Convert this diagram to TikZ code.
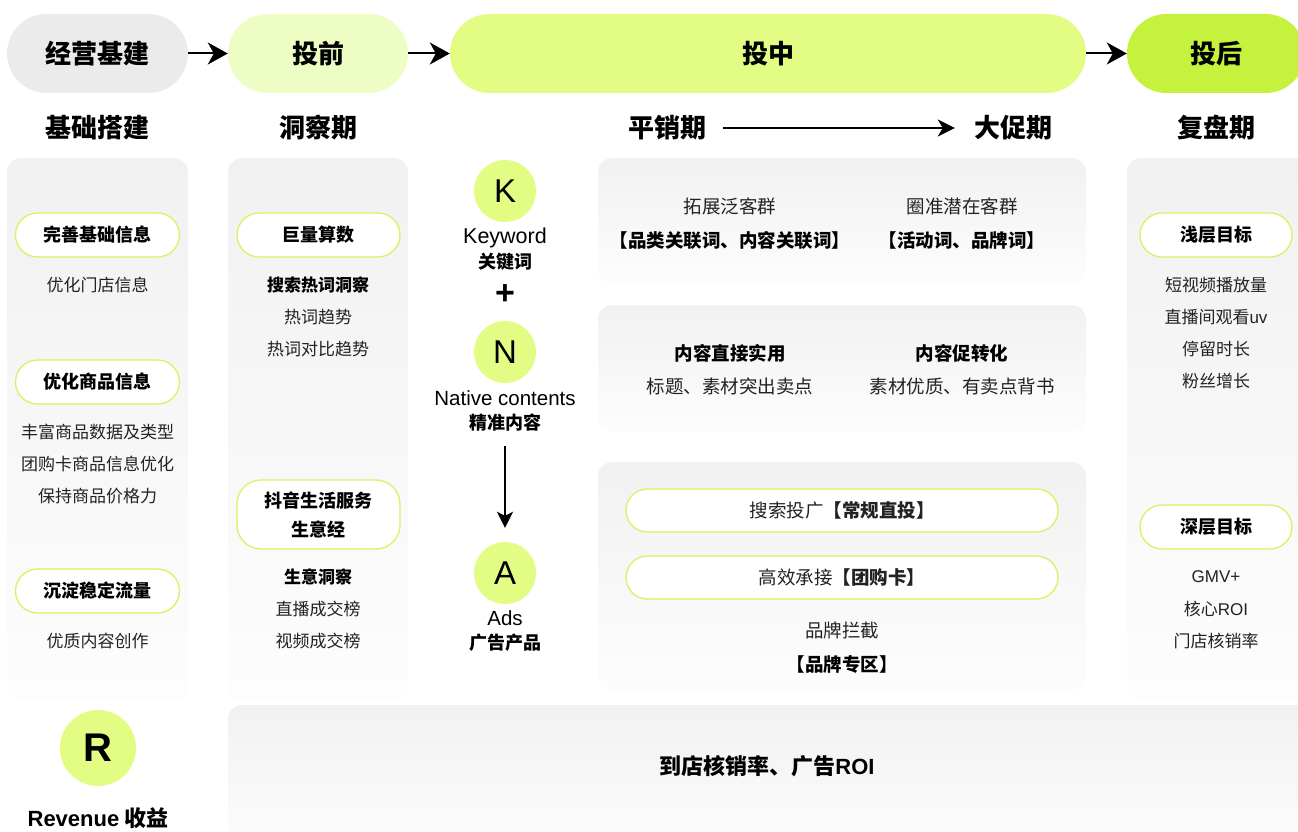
\documentclass[tikz,border=0pt]{standalone}
\usepackage{fontspec}
\setmainfont{Noto Sans CJK SC}
\newfontfamily\lat{Liberation Sans}
\usetikzlibrary{arrows.meta}
\definecolor{greyP}{HTML}{EBEBEB}
\definecolor{limeA}{HTML}{EDFDC3}
\definecolor{limeB}{HTML}{E3FC84}
\definecolor{limeC}{HTML}{C5F23D}
\definecolor{limeLine}{HTML}{D2F563}
\definecolor{panelTop}{HTML}{F1F1F1}
\definecolor{panelBot}{HTML}{FDFDFD}
\definecolor{txtc}{HTML}{222222}
\newcommand\myfs[1]{\fontsize{#1}{#1}\selectfont}
\begin{document}
\begin{tikzpicture}[x=1pt,y=-1pt,
  head/.style={rectangle, rounded corners=39.5pt, minimum height=79pt, inner sep=0pt, font=\bfseries\myfs{26}},
  subt/.style={inner sep=0pt, font=\bfseries\myfs{26}},
  panel/.style={rounded corners=14pt, top color=panelTop, bottom color=panelBot},
  tag/.style={draw=limeLine, line width=1.3pt, fill=white, rounded corners=22pt, minimum width=164pt, minimum height=44pt, inner sep=0pt, font=\bfseries\myfs{18}},
  wide/.style={draw=limeLine, line width=1.3pt, fill=white, rounded corners=21.5pt, minimum width=432pt, minimum height=43pt, inner sep=0pt, font=\myfs{18.5}, text=txtc},
  tx/.style={inner sep=0pt, font=\myfs{17}, text=txtc},
  txb/.style={inner sep=0pt, font=\bfseries\myfs{17}},
  mtx/.style={inner sep=0pt, font=\myfs{18.5}, text=txtc},
  mtxb/.style={inner sep=0pt, font=\bfseries\myfs{18.5}},
  circ/.style={circle, fill=limeB, minimum size=62pt, inner sep=0pt, font=\lat\myfs{33}},
  lab/.style={inner sep=0pt, font=\lat\myfs{20.5}},
  labb/.style={inner sep=0pt, font=\bfseries\myfs{18}},
  harrow/.style={-{Stealth[length=20pt,width=22pt,inset=6pt]}, line width=2pt},
  marrow/.style={-{Stealth[length=17pt,width=17pt,inset=5pt]}, line width=2pt},
]
\useasboundingbox (0,0) rectangle (1298,832);
\clip (0,0) rectangle (1298,832);

% ---------- header ----------
\node[head, fill=greyP, minimum width=181pt] (h1) at (97.5,53.5) {经营基建};
\node[head, fill=limeA, minimum width=180pt] (h2) at (318,53.5) {投前};
\node[head, fill=limeB, minimum width=636pt] (h3) at (768,53.5) {投中};
\node[head, fill=limeC, minimum width=178pt] (h4) at (1216,53.5) {投后};
\draw[harrow] (h1) -- (h2);
\draw[harrow] (h2) -- (h3);
\draw[harrow] (h3) -- (h4);

% ---------- sub titles ----------
\node[subt] (s1) at (97.5,128) {基础搭建};
\node[subt] (s2) at (318,128) {洞察期};
\node[subt] (s3) at (667,128) {平销期};
\node[subt] (s4) at (1013,128) {大促期};
\node[subt] (s5) at (1216,128) {复盘期};
\draw[marrow, shorten <=17pt, shorten >=19pt] (s3) -- (s4);

% ---------- panels ----------
\shade[panel] (7,158) rectangle (188,700);
\shade[panel] (228,158) rectangle (408,700);
\shade[panel] (598,158) rectangle (1086,285);
\shade[panel] (598,305) rectangle (1086,432);
\shade[panel] (598,462) rectangle (1086,690);
\shade[panel] (1127,158) rectangle (1320,700);
\shade[panel] (228,705) rectangle (1320,850);

% ---------- column 1 ----------
\node[tag] (l1) at (97.5,235) {完善基础信息};
\node[tx] (l1a) at (97.5,285) {优化门店信息};
\node[tag] (l2) at (97.5,382) {优化商品信息};
\node[tx] (l2a) at (97.5,432) {丰富商品数据及类型};
\node[tx] (l2b) at (97.5,464) {团购卡商品信息优化};
\node[tx] (l2c) at (97.5,496) {保持商品价格力};
\node[tag] (l3) at (97.5,591) {沉淀稳定流量};
\node[tx] (l3a) at (97.5,641) {优质内容创作};
\node[circ, minimum size=76pt, font=\lat\bfseries\myfs{40}] (R) at (98,748) {R};
\node[inner sep=0pt, font=\bfseries\myfs{22}] (rev) at (98,818) {{\lat Revenue} 收益};

% ---------- column 2 ----------
\node[tag, minimum width=163pt] (m1) at (318.5,235) {巨量算数};
\node[txb] (m1a) at (318,285) {搜索热词洞察};
\node[tx] (m1b) at (318,317) {热词趋势};
\node[tx] (m1c) at (318,349) {热词对比趋势};
\node[tag, minimum width=163pt, minimum height=69pt, rounded corners=24pt, align=center, font=\bfseries\fontsize{18}{29}\selectfont] (m2) at (318.5,514.5) {抖音生活服务\\生意经};
\node[txb] (m2a) at (318,577) {生意洞察};
\node[tx] (m2b) at (318,609) {直播成交榜};
\node[tx] (m2c) at (318,641) {视频成交榜};

% ---------- KNA ----------
\node[circ] (K) at (505,191) {K};
\node[lab, font=\lat\myfs{21.5}] (kw) at (505,238) {Keyword};
\node[labb] (kwz) at (505,262) {关键词};
\node[inner sep=0pt, font=\lat\bfseries\myfs{34}] (plus) at (505,295) {+};
\node[circ] (N) at (505,352) {N};
\node[lab] (nc) at (505,398) {Native contents};
\node[labb] (ncz) at (505,423) {精准内容};
\node[circ] (A) at (505,573) {A};
\node[lab] (ads) at (505,618) {Ads};
\node[labb] (adsz) at (505,643) {广告产品};
\draw[-{Stealth[length=16pt,width=16pt,inset=4pt]}, line width=1.8pt, shorten <=14pt, shorten >=14pt] (ncz) -- (A);

% ---------- middle panels ----------
\node[mtx] (p1a) at (730,206) {拓展泛客群};
\node[mtxb] (p1b) at (730,240) {【品类关联词、内容关联词】};
\node[mtx] (p1c) at (962,206) {圈准潜在客群};
\node[mtxb] (p1d) at (962,240) {【活动词、品牌词】};
\node[mtxb] (p2a) at (730,353) {内容直接实用};
\node[mtx] (p2b) at (730,386) {标题、素材突出卖点};
\node[mtxb] (p2c) at (962,353) {内容促转化};
\node[mtx] (p2d) at (962,386) {素材优质、有卖点背书};
\node[wide] (w1) at (842,510.5) {搜索投广{\bfseries【常规直投】}};
\node[wide] (w2) at (842,577.5) {高效承接{\bfseries【团购卡】}};
\node[mtx] (p3a) at (842,630) {品牌拦截};
\node[mtxb] (p3b) at (842,664) {【品牌专区】};

% ---------- right column ----------
\node[tag, minimum width=152pt] (r1) at (1216,235) {浅层目标};
\node[tx] (r1a) at (1216,285) {短视频播放量};
\node[tx] (r1b) at (1216,317) {直播间观看{\lat uv}};
\node[tx] (r1c) at (1216,349) {停留时长};
\node[tx] (r1d) at (1216,381) {粉丝增长};
\node[tag, minimum width=152pt] (r2) at (1216,527) {深层目标};
\node[tx] (r2a) at (1216,577) {\lat GMV+};
\node[tx] (r2b) at (1216,609) {核心{\lat ROI}};
\node[tx] (r2c) at (1216,641) {门店核销率};

% ---------- bottom ----------
\node[txb, font=\bfseries\myfs{22}] (bot) at (767,766) {到店核销率、广告{\lat ROI}};
\end{tikzpicture}
\end{document}
